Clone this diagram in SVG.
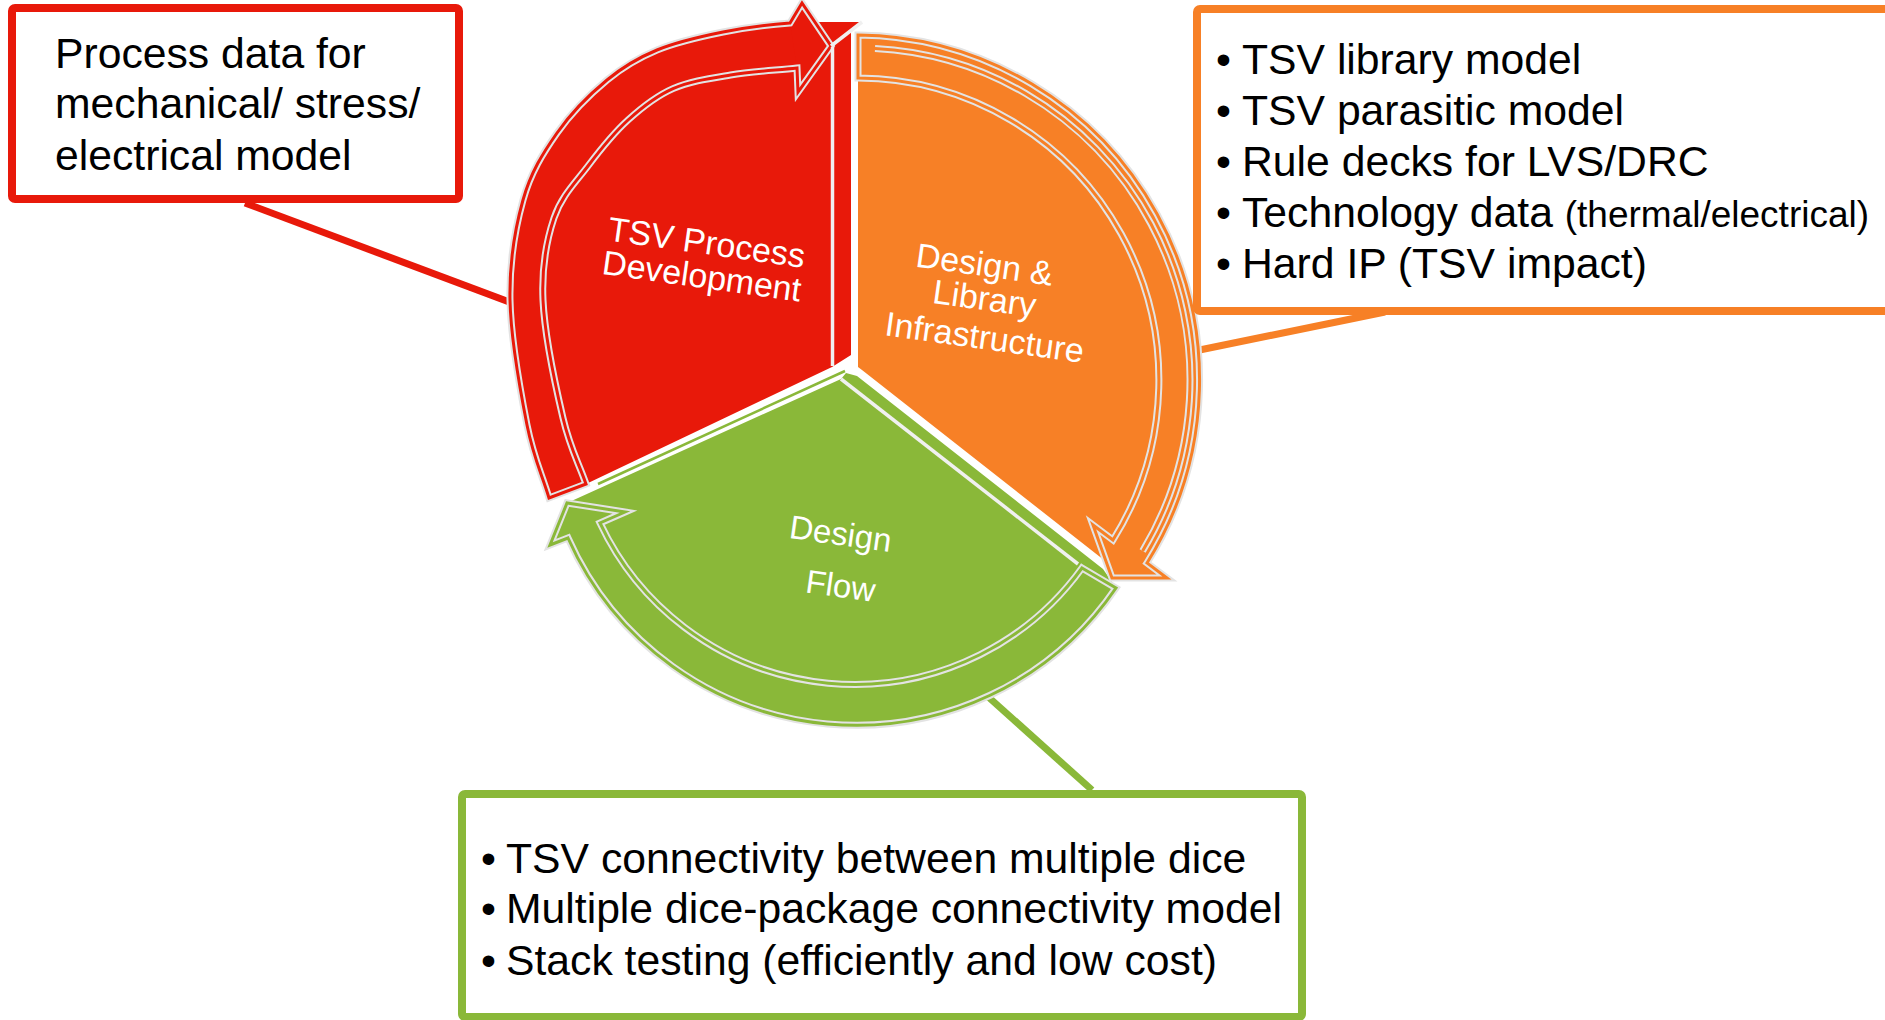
<svg xmlns="http://www.w3.org/2000/svg" width="1885" height="1020" viewBox="0 0 1885 1020">
  <style>
    .txt { font-family: "Liberation Sans", Arial, sans-serif; font-size: 42.7px; fill: #000; }
    .lbl { font-family: "Liberation Sans", Arial, sans-serif; font-size: 34px; fill: #fff; text-anchor: middle; }
    .rim { fill: none; stroke: #e3e3e3; stroke-width: 7; stroke-linejoin: miter; }
    .seam { fill: none; stroke: #f0f0f0; stroke-width: 3.5; }
    .red { fill: #E8190A; }
    .orange { fill: #F78026; }
    .green { fill: #8AB839; }
    .box { fill: #fff; stroke-width: 8; }
  </style>

  <rect width="1885" height="1020" fill="#fff"/>

  <!-- callout leaders -->
  <g id="connectors" fill="none" stroke-width="7">
    <line x1="245" y1="203" x2="520" y2="306" stroke="#E8190A"/>
    <line x1="1385" y1="312" x2="1185" y2="353" stroke="#F78026"/>
    <line x1="1092" y1="790" x2="985" y2="694" stroke="#8AB839"/>
  </g>

  <!-- Design Flow segment (bottom) -->
  <g id="seg-flow">
    <path class="green" d="M567,503 L550,545 L568,538 A315,315 0 0 0 1116,588 L1103,569 L857,376 L846,373 L841,379 Z"/>
    <path class="rim" d="M1082,568 L1116,588 A315,315 0 0 1 568,538 L550,545 L567,503 L625,512 L600,523 A281,281 0 0 0 1082,568 Z"/>
    <path fill="none" stroke="#8AB839" stroke-width="3" d="M1082,568 L1116,588 A315,315 0 0 1 568,538 L550,545 L567,503 L625,512 L600,523 A281,281 0 0 0 1082,568 Z"/>
    <line class="seam" x1="841" y1="379" x2="1078" y2="564"/>
    <line x1="845" y1="371" x2="598" y2="484" stroke="#8AB839" stroke-width="2.5"/>
    <text class="lbl" transform="translate(839,545) rotate(8)" style="font-size:33px">Design</text>
    <text class="lbl" transform="translate(839,597) rotate(8)" style="font-size:33px">Flow</text>
  </g>

  <!-- Design & Library Infrastructure segment (right) -->
  <g id="seg-library">
    <path class="orange" d="M858,35 A345,345 0 0 1 1147,563 L1167,578 L1112,578 L1109,564 L862,370 L858,367 Z"/>
    <path class="rim" d="M858,78 L858,35 A345,345 0 0 1 1147,563 L1167,578 L1112,578 L1093,525 L1113,540 A302,302 0 0 0 858,78 Z"/>
    <path fill="none" stroke="#F78026" stroke-width="3" d="M858,78 L858,35 A345,345 0 0 1 1147,563 L1167,578 L1112,578 L1093,525 L1113,540 A302,302 0 0 0 858,78 Z"/>
    <path class="rim" d="M875,48.5 A332,332 0 0 1 1142.6,551"/>
    <path fill="none" stroke="#F78026" stroke-width="3" d="M875,48.5 A332,332 0 0 1 1142.6,551"/>
    <text class="lbl" transform="translate(983,276) rotate(8)">Design &amp;</text>
    <text class="lbl" transform="translate(983,310) rotate(8)">Library</text>
    <text class="lbl" transform="translate(983,349) rotate(8)">Infrastructure</text>
  </g>

  <!-- TSV Process Development segment (left) -->
  <g id="seg-process">
    <path class="red" d="M549,498 C541.7,473.7 533.5,458 527,425 C520.5,392 510.7,337.5 510,300 C509.3,262.5 515.2,227.8 523,200 C530.8,172.2 543,153 557,133 C571,113 590.3,93.8 607,80 C623.7,66.2 637.7,58 657,50 C676.3,42 700.8,36.5 723,32 C745.2,27.5 766.8,24.7 790,23 C813.2,21.3 838,22.3 862,22 L851,31 L851,355 L832,367 L586,484 Z"/>
    <path class="red" d="M790,23 L802,3 L831,46 L798,92 L797,68 Z"/>
    <path class="rim" d="M586,484 L549,498 C541.7,473.7 533.5,458 527,425 C520.5,392 510.7,337.5 510,300 C509.3,262.5 515.2,227.8 523,200 C530.8,172.2 543,153 557,133 C571,113 590.3,93.8 607,80 C623.7,66.2 637.7,58 657,50 C676.3,42 700.8,36.5 723,32 C745.2,27.5 766.8,24.7 790,23 L802,3 L831,46 L798,92 L797,68 C774.8,70.3 751.2,71.6 730.5,75 C709.8,78.4 690.1,81.1 673,88.6 C655.9,96.1 642.2,107.1 628,120 C613.8,132.9 600.3,149.7 588,166 C575.7,182.3 561.5,195.7 554,218 C546.5,240.3 541.5,266.7 543,300 C544.5,333.3 555.8,387.3 563,418 C570.2,448.7 578.3,462 586,484 Z"/>
    <path fill="none" stroke="#E8190A" stroke-width="3" d="M586,484 L549,498 C541.7,473.7 533.5,458 527,425 C520.5,392 510.7,337.5 510,300 C509.3,262.5 515.2,227.8 523,200 C530.8,172.2 543,153 557,133 C571,113 590.3,93.8 607,80 C623.7,66.2 637.7,58 657,50 C676.3,42 700.8,36.5 723,32 C745.2,27.5 766.8,24.7 790,23 L802,3 L831,46 L798,92 L797,68 C774.8,70.3 751.2,71.6 730.5,75 C709.8,78.4 690.1,81.1 673,88.6 C655.9,96.1 642.2,107.1 628,120 C613.8,132.9 600.3,149.7 588,166 C575.7,182.3 561.5,195.7 554,218 C546.5,240.3 541.5,266.7 543,300 C544.5,333.3 555.8,387.3 563,418 C570.2,448.7 578.3,462 586,484 Z"/>
    <line class="seam" x1="832.5" y1="47" x2="832.5" y2="366"/>
    <line class="seam" x1="831" y1="46" x2="862" y2="22"/>
    <g transform="translate(705,254) rotate(8)">
      <text class="lbl" x="0" y="0">TSV Process</text>
      <text class="lbl" x="0" y="34">Development</text>
    </g>
  </g>

  <!-- callout: process data -->
  <g id="box-process">
    <rect class="box" x="12" y="8" width="447" height="191" rx="3" stroke="#E8190A"/>
    <text class="txt" x="55" y="68">Process data for</text>
    <text class="txt" x="55" y="118">mechanical/ stress/</text>
    <text class="txt" x="55" y="170">electrical model</text>
  </g>

  <!-- callout: library deliverables -->
  <g id="box-library">
    <rect class="box" x="1197" y="9" width="720" height="302" rx="3" stroke="#F78026"/>
    <g class="txt">
      <text x="1216" y="74">•</text><text x="1242" y="74">TSV library model</text>
      <text x="1216" y="125">•</text><text x="1242" y="125">TSV parasitic model</text>
      <text x="1216" y="176">•</text><text x="1242" y="176">Rule decks for LVS/DRC</text>
      <text x="1216" y="227">•</text><text x="1242" y="227">Technology data <tspan style="font-size:37px">(thermal/electrical)</tspan></text>
      <text x="1216" y="278">•</text><text x="1242" y="278">Hard IP (TSV impact)</text>
    </g>
  </g>

  <!-- callout: design flow needs -->
  <g id="box-flow">
    <rect class="box" x="462" y="794" width="840" height="223" rx="3" stroke="#8AB839"/>
    <g class="txt">
      <text x="481" y="873">•</text><text x="506" y="873">TSV connectivity between multiple dice</text>
      <text x="481" y="923">•</text><text x="506" y="923">Multiple dice-package connectivity model</text>
      <text x="481" y="975">•</text><text x="506" y="975">Stack testing (efficiently and low cost)</text>
    </g>
  </g>
</svg>
